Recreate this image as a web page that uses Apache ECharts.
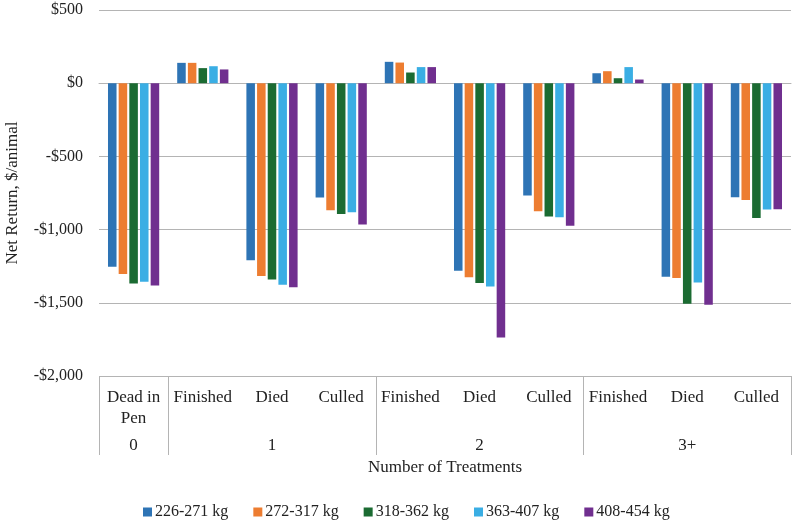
<!DOCTYPE html>
<html>
<head>
<meta charset="utf-8">
<script src="https://cdn.jsdelivr.net/npm/echarts@6/dist/echarts.min.js"></script>
<style>
  html, body { margin: 0; padding: 0; background: #fff; }
  #chart { width: 799px; height: 522px; }
</style>
</head>
<body>
<div id="chart"></div>
<script>
// categories (first level) and treatment groups (second level)
var categories = ['Dead in\nPen', 'Finished', 'Died', 'Culled', 'Finished', 'Died', 'Culled', 'Finished', 'Died', 'Culled'];
var groupLabels = ['0', '', '1', '', '', '2', '', '', '3+', ''];
var groupStarts = [0, 1, 4, 7];

var seriesNames = ['226-271 kg', '272-317 kg', '318-362 kg', '363-407 kg', '408-454 kg'];
var w226 = [-1253, 139, -1210, -781, 146, -1281, -767, 68, -1322, -779];
var w272 = [-1303, 139, -1317, -868, 141, -1326, -874, 82, -1331, -797];
var w318 = [-1368, 103, -1340, -893, 73, -1365, -911, 34, -1507, -920];
var w363 = [-1356, 116, -1377, -881, 110, -1388, -916, 110, -1361, -863];
var w408 = [-1381, 94, -1393, -966, 110, -1737, -973, 25, -1514, -861];
var colors = ['#2e74b5', '#ed7d31', '#1b6b32', '#3aaee4', '#702f8f'];

var chart = echarts.init(document.getElementById('chart'));
var font = 'Liberation Serif, Times New Roman, serif';
var lineColor = '#b4b4b4';

function money(v) {
    var s = '$' + Math.abs(v).toLocaleString('en-US');
    return v < 0 ? '-' + s : s;
}

var allData = [w226, w272, w318, w363, w408];
var series = seriesNames.map(function (name, i) {
    return {
        name: name,
        type: 'bar',
        data: allData[i],
        barGap: '25%',
        barCategoryGap: '26%',
        itemStyle: { color: colors[i] }
    };
});

chart.setOption({
    animation: false,
    textStyle: { fontFamily: font },
    color: colors,
    grid: { left: 99, right: 8, top: 10, bottom: 146, outerBoundsMode: 'none' },
    legend: {
        data: seriesNames,
        left: 138,
        top: 499,
        icon: 'rect',
        itemWidth: 9,
        itemHeight: 9,
        itemGap: 25,
        textStyle: { fontFamily: font, fontSize: 16, color: '#222', padding: [0, 0, 0, -2] }
    },
    xAxis: [{
        type: 'category',
        data: categories,
        axisLine: { show: true, lineStyle: { color: lineColor, width: 1 } },
        axisTick: { show: false },
        axisLabel: {
            interval: 0,
            margin: 11,
            fontFamily: font,
            fontSize: 17,
            color: '#222',
            lineHeight: 21
        }
    }, {
        type: 'category',
        position: 'bottom',
        data: groupLabels,
        axisLine: { show: false },
        axisTick: {
            show: true,
            length: 79,
            lineStyle: { color: lineColor, width: 1 },
            interval: function (index) { return groupStarts.indexOf(index) >= 0; }
        },
        axisLabel: {
            interval: 0,
            margin: 61,
            fontFamily: font,
            fontSize: 17,
            color: '#222'
        },
        name: 'Number of Treatments',
        nameLocation: 'middle',
        nameGap: 83,
        nameTextStyle: { fontFamily: font, fontSize: 17, color: '#222' }
    }],
    yAxis: {
        type: 'value',
        min: -2000,
        max: 500,
        interval: 500,
        axisLine: { show: false },
        axisTick: { show: false },
        splitLine: { lineStyle: { color: lineColor, width: 1 } },
        axisLabel: {
            margin: 16,
            fontFamily: font,
            fontSize: 16,
            color: '#222',
            formatter: money
        },
        name: 'Net Return, $/animal',
        nameLocation: 'middle',
        nameGap: 78,
        nameTextStyle: { fontFamily: font, fontSize: 17, color: '#222' }
    },
    series: series
});
</script>
</body>
</html>
